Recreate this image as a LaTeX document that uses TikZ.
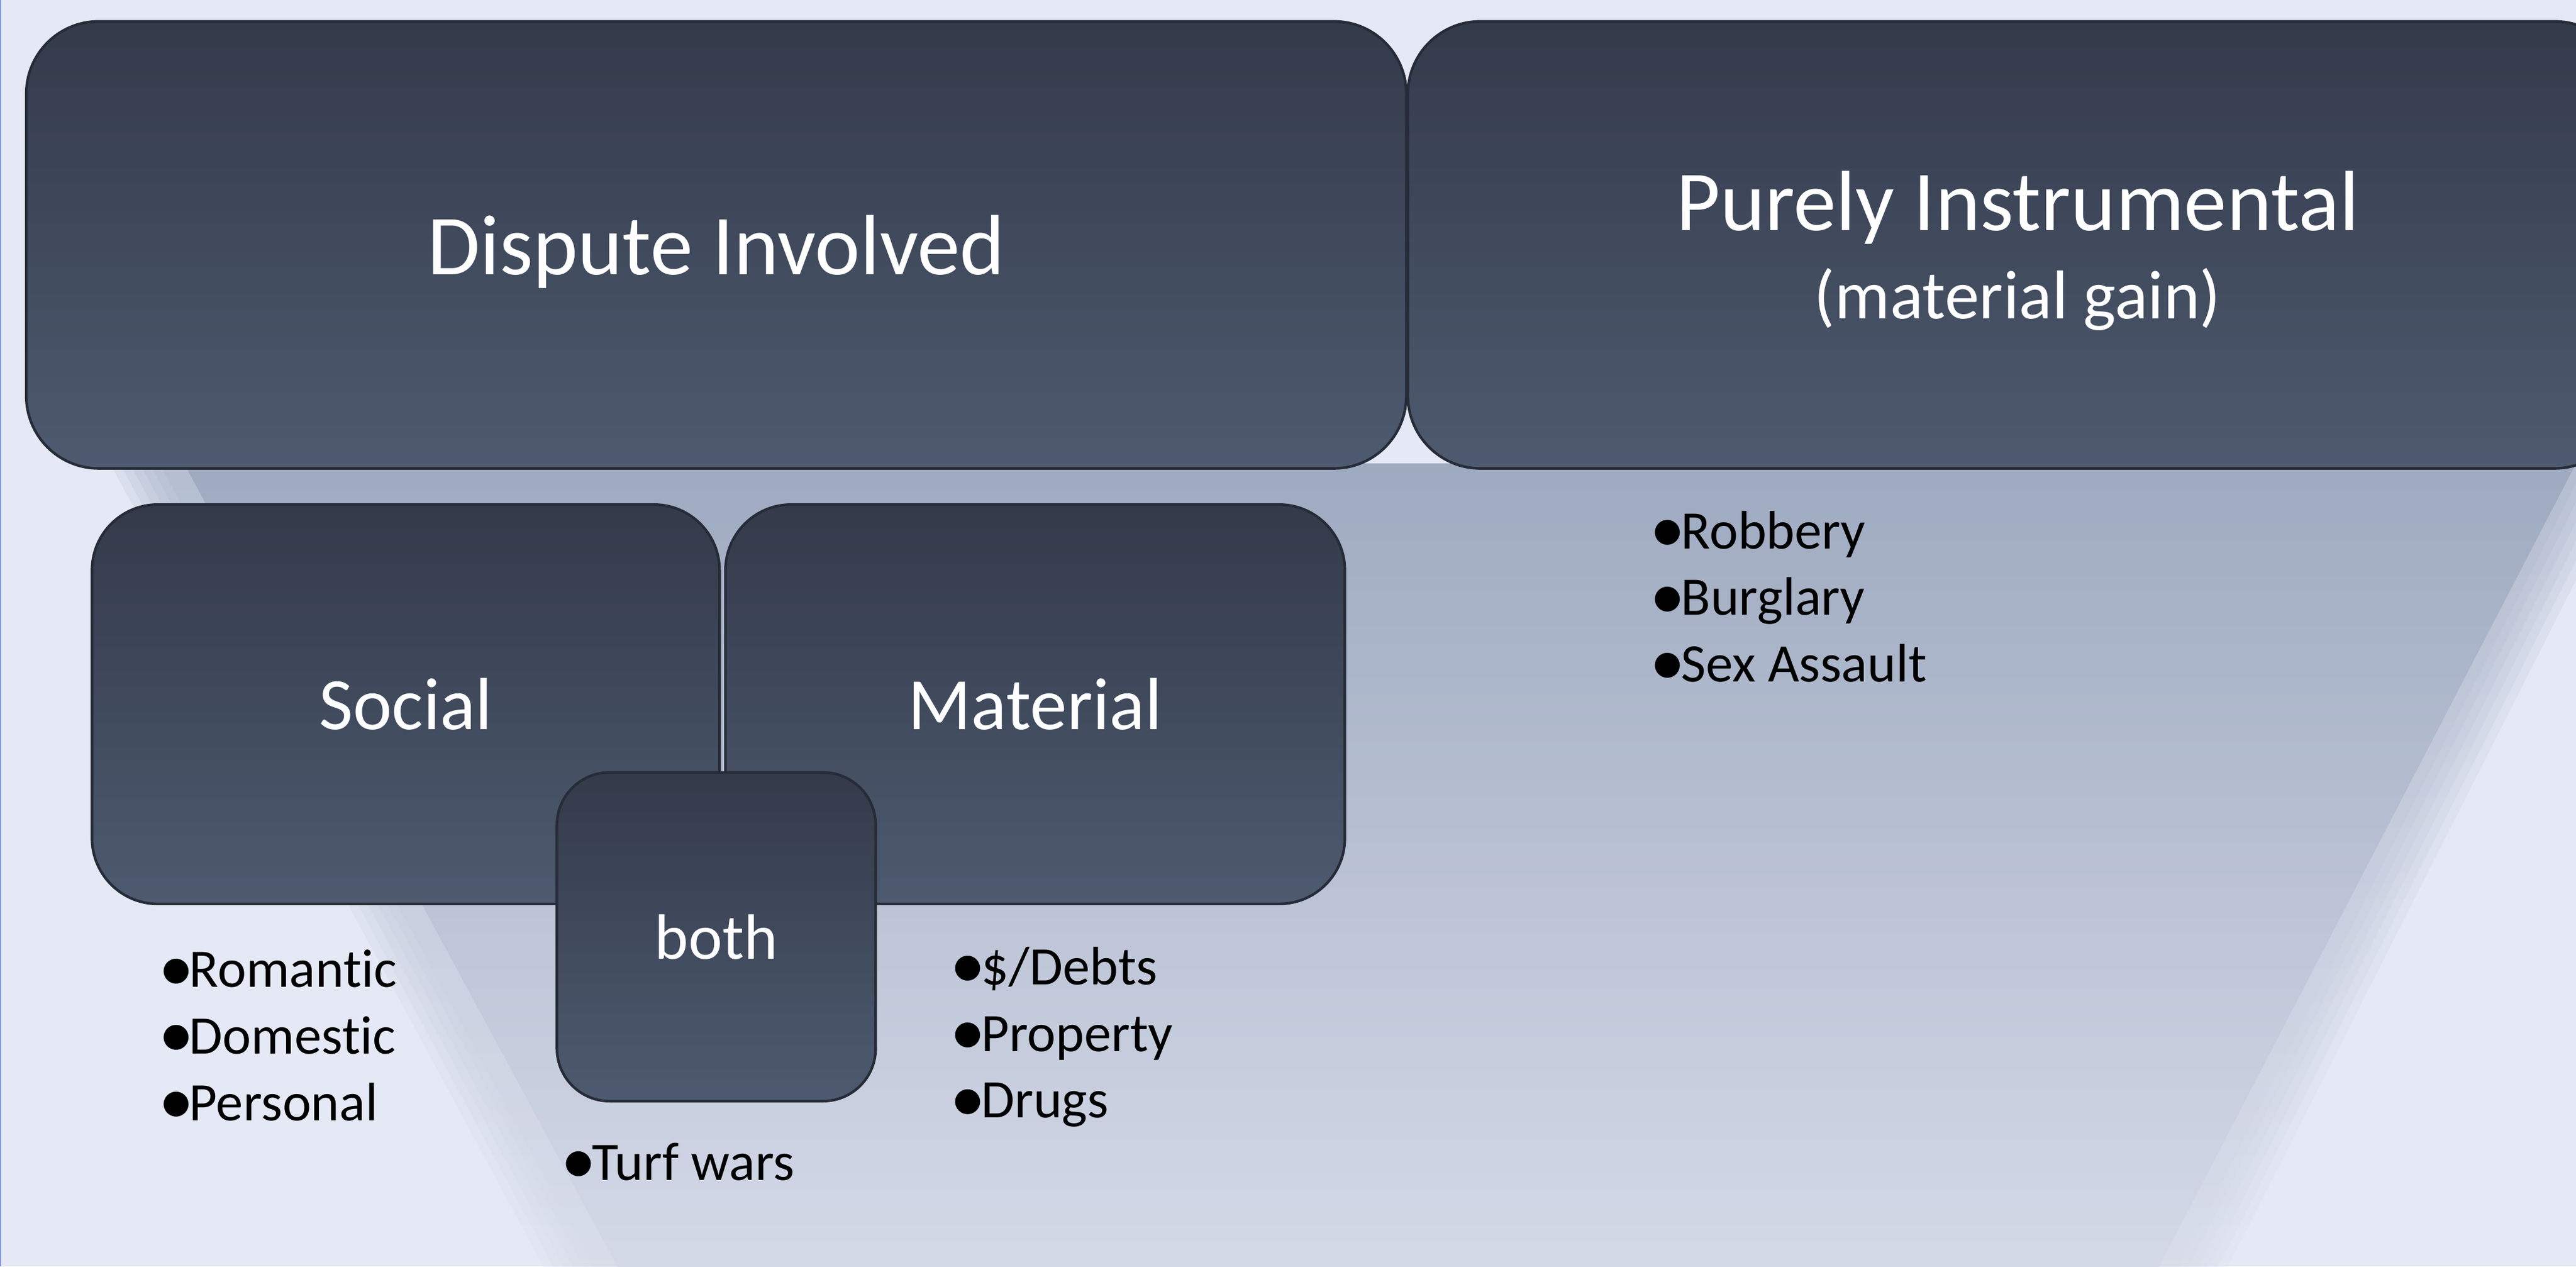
\documentclass[tikz,border=0pt]{standalone}
\usepackage{fontspec}
\setmainfont[Ligatures=NoCommon]{Carlito}
\usepackage{graphicx}
\usepackage{tikz}
\usetikzlibrary{positioning}
\definecolor{bgcol}{HTML}{E5E9F5}
\definecolor{edgeline}{HTML}{8199DF}
\definecolor{boxtop}{HTML}{333A4A}
\definecolor{boxbot}{HTML}{4D5A6F}
\definecolor{boxline}{HTML}{262C37}
\definecolor{shtop}{HTML}{9EAAC0}
\definecolor{shbot}{HTML}{D4D9E7}
\newcommand{\bul}{\kern-0.05em\raisebox{-0.07em}{\scalebox{1.3}{•}}\kern-0.08em}

\begin{document}
\begin{tikzpicture}[x=1pt,y=-1pt,node distance=2pt]
      \tikzstyle{box}=[rectangle,rounded corners=44pt,draw=boxline,line width=1.6pt,top color=boxtop,bottom color=boxbot,text=white,inner sep=0pt]
      \tikzstyle{lst}=[anchor=west,align=left,text=black,inner sep=0pt,font=\fontsize{33}{40.5}\selectfont]
      \useasboundingbox (0,0) rectangle (1568,770.6);
      \clip (0,0) rectangle (1568,770.6);
      \fill[bgcol] (0,0) rectangle (1568,770.6);
      \draw[edgeline,line width=0.8pt] (0.4,0) -- (0.4,770.6);
      % shadow under the boxes
      \foreach \d in {30,24,18,12,6,0}
        \shade[top color=shtop,bottom color=shbot,fill opacity=0.16] (97-\d,282) -- (1574+\d,282) -- (1326+\d,771) -- (361-\d,771) -- cycle;
      \shade[top color=shtop,bottom color=shbot] (112,282) -- (1568,282) -- (1314,771) -- (376,771) -- cycle;
      % top row
      \node[box,minimum width=840pt,minimum height=272pt,text depth=0pt,font=\fontsize{52}{62}\selectfont] (dispute) at (436,149) {Dispute Involved};
      \node[box,minimum width=742pt,minimum height=272pt,text depth=0pt,align=center,font=\fontsize{52}{54}\selectfont] (instr) at (1228,149) {Purely Instrumental\\{\fontsize{42}{54}\selectfont(material gain)}};
      % second row
      \node[box,rounded corners=40pt,minimum width=382pt,minimum height=243pt,font=\fontsize{45}{54}\selectfont] (social) at (247,428.5) {Social};
      \node[box,rounded corners=40pt,minimum width=377pt,minimum height=243pt,font=\fontsize{45}{54}\selectfont,right=of social] (material) {Material};
      \node[box,rounded corners=32pt,minimum width=194pt,minimum height=200pt,font=\fontsize{39}{47}\selectfont] (both) at (436,570) {both};
      % lists
      \node[lst] (sociallist) at (98,631) {\bul Romantic\\\bul Domestic\\\bul Personal};
      \node[lst] (materiallist) at (580,631) {\bul\$/Debts\\\bul Property\\\bul Drugs};
      \node[lst] (turf) at (343,708) {\bul Turf wars};
      \node[lst] (instrlist) at (1006,364) {\bul Robbery\\\bul Burglary\\\bul Sex Assault};
    \end{tikzpicture}
\end{document}
